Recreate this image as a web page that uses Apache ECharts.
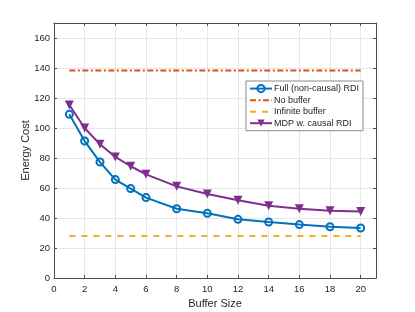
<!DOCTYPE html>
<html><head><meta charset="utf-8">
<script src="https://cdn.jsdelivr.net/npm/echarts@6/dist/echarts.min.js"></script>
<style>html,body{margin:0;padding:0;background:#fff}#c{width:415px;height:312px}</style>
</head><body><div id="c"></div>
<script>
const bufferSizes = [1, 2, 3, 4, 5, 6, 8, 10, 12, 14, 16, 18, 20];
const fullRDI = [109.1, 91.3, 77.3, 65.6, 59.6, 53.6, 46.2, 43.1, 39.1, 37.3, 35.6, 34.2, 33.3];
const mdpCausal = [115.3, 100.0, 89.1, 80.7, 74.5, 69.1, 61.1, 56.0, 51.8, 48.2, 46.2, 44.9, 44.3];
const noBuffer = [[1, 138.3], [20, 138.3]];
const infiniteBuffer = [[1, 28], [20, 28]];
const seriesNames = ['Full (non-causal) RDI', 'No buffer', 'Infinite buffer', 'MDP w. causal RDI'];
const xTicks = [0, 2, 4, 6, 8, 10, 12, 14, 16, 18, 20];
const yTicks = [0, 20, 40, 60, 80, 100, 120, 140, 160];
const xLabel = 'Buffer Size';
const yLabel = 'Energy Cost';

const pair = (xs, ys) => xs.map((x, i) => [x, ys[i]]);
const font = 'Liberation Sans, Arial, sans-serif';
const axisCol = '#4d4d4d';
const chart = echarts.init(document.getElementById('c'), null, {renderer: 'canvas'});
const tick = vals => ({show: true, inside: true, length: 3, lineStyle: {color: axisCol}, customValues: vals});
const baseX = {
  type: 'value', min: 0, max: 21, interval: 2,
  axisLine: {show: true, onZero: false, lineStyle: {color: axisCol, width: 1}},
  axisTick: tick(xTicks),
  splitLine: {show: false}
};
const baseY = {
  type: 'value', min: 0, max: 170, interval: 20,
  axisLine: {show: true, onZero: false, lineStyle: {color: axisCol, width: 1}},
  axisTick: tick(yTicks),
  splitLine: {show: false}
};
chart.setOption({
  animation: false,
  backgroundColor: '#fff',
  grid: {left: 54, right: 39, top: 23, bottom: 34, containLabel: false, outerBoundsMode: 'none'},
  xAxis: [
    Object.assign({}, baseX, {
      position: 'bottom',
      name: xLabel, nameLocation: 'middle', nameGap: 20, nameMoveOverlap: false,
      nameTextStyle: {color: '#262626', fontSize: 11, fontFamily: font},
      axisLabel: {color: '#262626', fontSize: 9.5, fontFamily: font, margin: 6,
        customValues: xTicks},
      splitLine: {show: true, lineStyle: {color: '#e6e6e6', width: 1}}
    }),
    Object.assign({}, baseX, {position: 'top', axisLabel: {show: false}})
  ],
  yAxis: [
    Object.assign({}, baseY, {
      position: 'left',
      name: yLabel, nameLocation: 'middle', nameGap: 23, nameMoveOverlap: false,
      nameTextStyle: {color: '#262626', fontSize: 11, fontFamily: font},
      axisLabel: {color: '#262626', fontSize: 9.5, fontFamily: font, margin: 4,
        customValues: yTicks},
      splitLine: {show: true, lineStyle: {color: '#e6e6e6', width: 1}}
    }),
    Object.assign({}, baseY, {position: 'right', axisLabel: {show: false}})
  ],
  legend: {
    show: true,
    left: 246, top: 81,
    orient: 'vertical',
    backgroundColor: '#fff',
    borderColor: '#8a8a8a', borderWidth: 1,
    padding: [3, 4, 3, 3],
    itemGap: 2.5, itemWidth: 22, itemHeight: 9,
    textStyle: {color: '#262626', fontSize: 9, fontFamily: font, padding: [0, 0, 0, -3]},
    data: [
      {name: seriesNames[0]},
      {name: seriesNames[1], itemStyle: {opacity: 0}},
      {name: seriesNames[2], itemStyle: {opacity: 0}},
      {name: seriesNames[3]}
    ]
  },
  series: [
    {name: seriesNames[0], type: 'line', data: pair(bufferSizes, fullRDI),
      color: '#0072BD', symbol: 'circle', symbolSize: 7,
      lineStyle: {width: 2, color: '#0072BD'},
      itemStyle: {color: 'rgba(255,255,255,0)', borderWidth: 2, borderColor: '#0072BD'}, z: 3},
    {name: seriesNames[1], type: 'line', data: noBuffer, color: '#D95319',
      symbol: 'none', lineStyle: {width: 2, color: '#D95319', type: [6, 2.5, 2, 2.5]}, z: 2},
    {name: seriesNames[2], type: 'line', data: infiniteBuffer, color: '#EDB120',
      symbol: 'none', lineStyle: {width: 2, color: '#EDB120', type: [6, 6]}, z: 2},
    {name: seriesNames[3], type: 'line', data: pair(bufferSizes, mdpCausal),
      color: '#7E2F8E', symbol: 'triangle', symbolRotate: 180, symbolSize: 9,
      lineStyle: {width: 2, color: '#7E2F8E'},
      itemStyle: {color: '#7E2F8E'}, z: 3}
  ]
});
</script></body></html>
